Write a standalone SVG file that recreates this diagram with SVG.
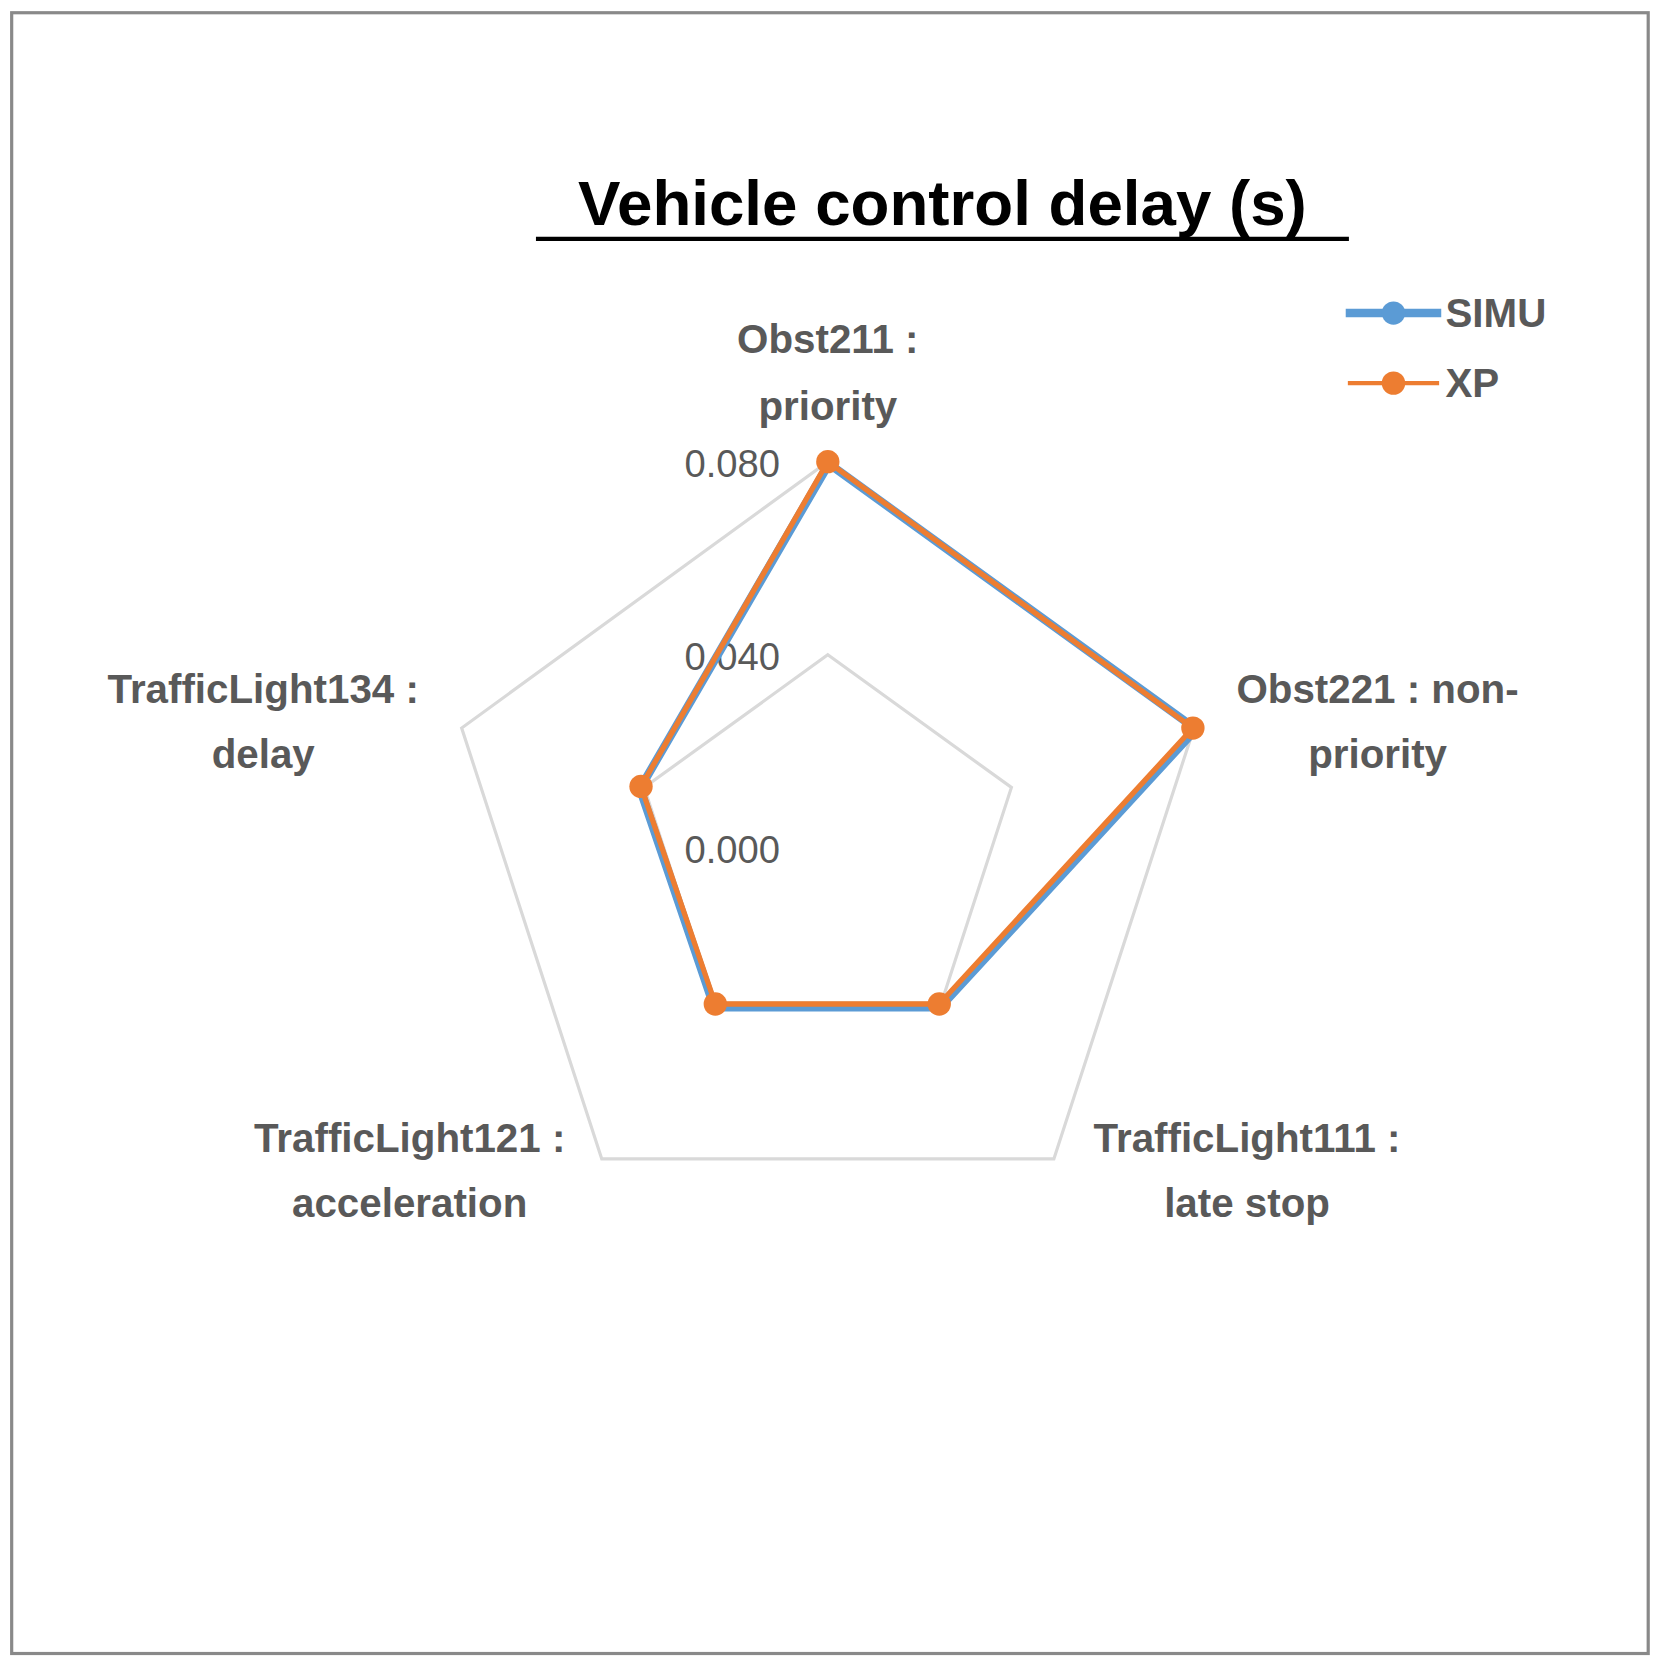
<svg xmlns="http://www.w3.org/2000/svg" width="1661" height="1661" viewBox="0 0 1661 1661">
<style>
.lab{font-family:"Liberation Sans",Arial,sans-serif;font-weight:bold;font-size:38px;fill:#595959;text-anchor:middle}
.ax{font-family:"Liberation Sans",Arial,sans-serif;font-size:36px;fill:#595959;text-anchor:end}
.grid{fill:none;stroke:#d9d9d9;stroke-width:3}
</style>
<rect x="0" y="0" width="1661" height="1661" fill="#fff"/>
<g transform="scale(1.0613)">
<rect x="11" y="12" width="1542" height="1546" fill="#fff" stroke="#898989" stroke-width="3"/>
<g id="title"><text x="888" y="212" font-family="Liberation Sans,Arial,sans-serif" font-weight="bold" font-size="60" text-anchor="middle" fill="#000">Vehicle control delay (s)</text>
<line x1="505" y1="225" x2="1271" y2="225" stroke="#000" stroke-width="4"/></g>
<g id="grid">
<polygon class="grid" points="780,435 1125,686 993,1092 567,1092 435,686"/>
<polygon class="grid" points="780,617 953,742 887,945 673,945 607,742"/>
</g>
<g id="axis-labels">
<text class="ax" x="735" y="449">0.080</text>
<text class="ax" x="735" y="631">0.040</text>
<text class="ax" x="735" y="813">0.000</text>
</g>
<g id="categories">
<text class="lab" x="780" y="333">Obst211 :</text><text class="lab" x="780" y="396">priority</text>
<text class="lab" x="1298" y="662">Obst221 : non-</text><text class="lab" x="1298" y="724">priority</text>
<text class="lab" x="1175" y="1085">TrafficLight111 :</text><text class="lab" x="1175" y="1147">late stop</text>
<text class="lab" x="386" y="1085">TrafficLight121 :</text><text class="lab" x="386" y="1147">acceleration</text>
<text class="lab" x="248" y="662">TrafficLight134 :</text><text class="lab" x="248" y="724">delay</text>
</g>
<g id="series">
<polygon points="781,437 1127,687 886,949 673,949 603,743" fill="none" stroke="#5b9bd5" stroke-width="8" stroke-linejoin="round"/>
<polygon points="780,435 1124,686 885,946 674,946 604,741" fill="none" stroke="#ed7d31" stroke-width="5" stroke-linejoin="round"/>
<g fill="#ed7d31"><circle cx="780" cy="435" r="11"/><circle cx="1124" cy="686" r="11"/><circle cx="885" cy="946" r="11"/><circle cx="674" cy="946" r="11"/><circle cx="604" cy="741" r="11"/></g>
</g>
<g id="legend">
<line x1="1268" y1="295" x2="1358" y2="295" stroke="#5b9bd5" stroke-width="8"/><circle cx="1313" cy="295" r="11" fill="#5b9bd5"/>
<text x="1362" y="308" font-family="Liberation Sans,Arial,sans-serif" font-weight="bold" font-size="38" fill="#595959">SIMU</text>
<line x1="1270" y1="361" x2="1356" y2="361" stroke="#ed7d31" stroke-width="4"/><circle cx="1313" cy="361" r="11" fill="#ed7d31"/>
<text x="1362" y="374" font-family="Liberation Sans,Arial,sans-serif" font-weight="bold" font-size="38" fill="#595959">XP</text>
</g>
</g>
</svg>
